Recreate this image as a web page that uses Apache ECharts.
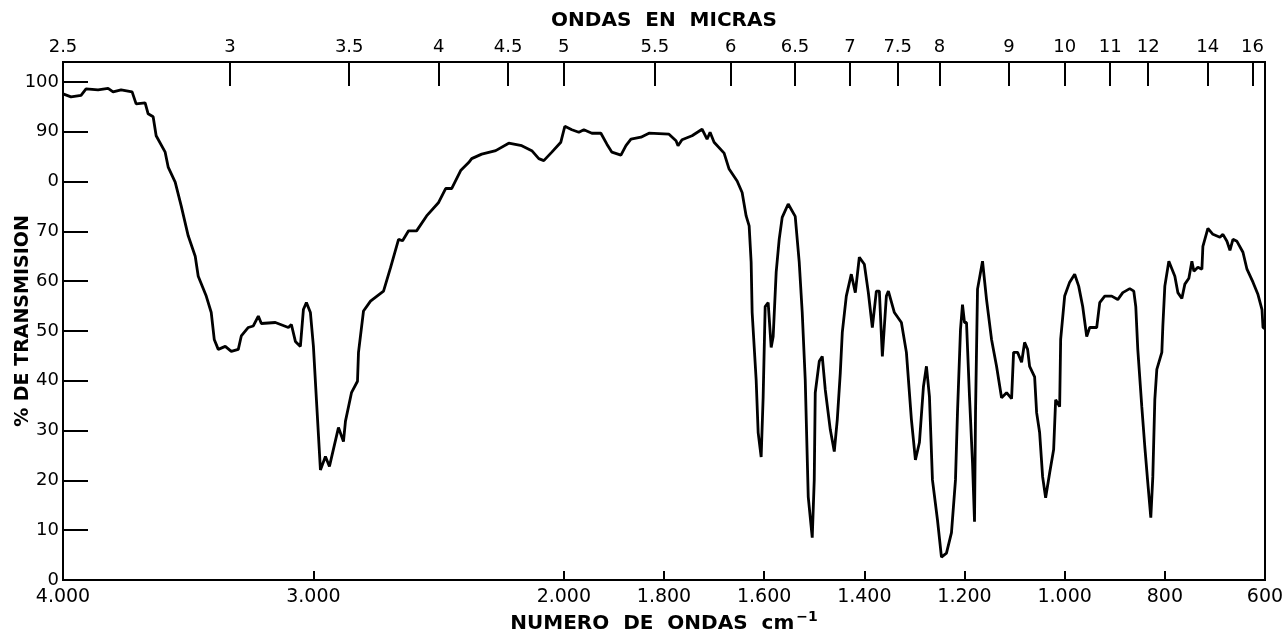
<!DOCTYPE html>
<html>
<head>
<meta charset="utf-8">
<title>Espectro IR</title>
<script src="https://cdn.jsdelivr.net/npm/echarts@6/dist/echarts.min.js"></script>
<style>
  html, body { margin: 0; padding: 0; background: #fff; }
  #chart { width: 1284px; height: 630px; }
</style>
</head>
<body>
<div id="chart"></div>
<script>
const waveNumbers = [
  4000, 3968, 3928, 3908, 3860, 3820, 3800, 3768, 3724, 3708, 3672, 3660, 3640, 3628,
  3592, 3580, 3552, 3528, 3500, 3472, 3460, 3428, 3408, 3396, 3380, 3352, 3328, 3300,
  3288, 3260, 3240, 3220, 3208, 3152, 3100, 3088, 3072, 3052, 3040, 3028, 3012, 3000,
  2988, 2972, 2952, 2936, 2900, 2880, 2872, 2848, 2824, 2820, 2800, 2772, 2720, 2692,
  2660, 2644, 2620, 2588, 2548, 2500, 2472, 2448, 2412, 2380, 2368, 2328, 2272, 2220,
  2168, 2128, 2100, 2080, 2048, 2012,
  1998, 1984, 1970, 1960, 1944, 1926, 1914, 1904, 1886, 1876, 1866, 1846, 1830, 1790,
  1776, 1772, 1764, 1744, 1724, 1714, 1708, 1700, 1680, 1670, 1654, 1644, 1636, 1630,
  1626, 1624, 1616, 1612, 1606, 1602, 1598, 1592, 1586, 1582, 1576, 1570, 1564, 1552,
  1538, 1530, 1524, 1518, 1512, 1504, 1500, 1498, 1490, 1484, 1478, 1468, 1460, 1454,
  1448, 1444, 1436, 1426, 1418, 1410, 1400, 1392, 1384, 1376, 1370, 1364, 1356, 1352,
  1340, 1326, 1316, 1306, 1298, 1290, 1282, 1276, 1270, 1264, 1254, 1246, 1236, 1226,
  1218, 1214, 1208, 1204, 1200, 1196, 1190, 1184, 1180, 1178, 1174, 1164, 1156, 1146,
  1136, 1126, 1116, 1106, 1102, 1094, 1086, 1080, 1074, 1070, 1060, 1056, 1050, 1044,
  1038, 1030, 1022, 1018, 1010, 1008, 1000, 990, 980, 972, 964, 956, 950, 936,
  930, 920, 906, 894, 884, 870, 862, 858, 854, 846, 840, 834, 828, 824,
  820, 816, 806, 804, 800, 792, 780, 774, 766, 760, 752, 746, 742, 734,
  726, 724, 714, 704, 690, 684, 676, 670, 664, 656, 644, 636, 624, 614,
  606, 604, 600
];

// % de transmision en cada punto
const transmission = [
  97.6, 97.0, 97.3, 98.6, 98.4, 98.7, 98.0, 98.4, 98.0, 95.6, 95.8, 93.6, 93.0, 89.2,
  85.9, 82.9, 79.9, 75.1, 69.1, 65.0, 61.0, 57.0, 53.7, 48.3, 46.3, 46.9, 45.9, 46.3,
  49.0, 50.7, 51.0, 53.0, 51.5, 51.7, 50.7, 51.3, 47.9, 46.9, 54.3, 55.7, 53.7, 46.9,
  36.2, 22.1, 24.8, 22.8, 30.6, 27.8, 31.9, 37.6, 39.9, 45.7, 54.0, 56.0, 58.0, 62.7,
  68.4, 68.1, 70.1, 70.1, 73.1, 75.8, 78.6, 78.6, 82.2, 83.8, 84.6, 85.5, 86.2, 87.7,
  87.2, 86.2, 84.6, 84.2, 85.9, 87.9,
  91.1, 90.4, 89.9, 90.4, 89.7, 89.7, 87.5, 85.9, 85.3, 87.2, 88.5, 88.9, 89.7, 89.5,
  88.2, 87.2, 88.4, 89.2, 90.5, 88.5, 89.9, 87.9, 85.7, 82.5, 80.1, 77.8, 73.1, 71.1,
  63.8, 53.7, 40.2, 29.6, 24.7, 36.8, 54.9, 55.7, 46.7, 48.9, 61.8, 68.4, 72.8, 75.5,
  73.0, 63.8, 53.7, 40.2, 16.7, 8.5, 20.1, 37.6, 43.9, 44.9, 38.2, 30.2, 25.8, 32.2,
  41.6, 49.7, 57.0, 61.4, 57.7, 64.8, 63.4, 57.7, 50.7, 58.0, 58.0, 44.9, 57.0, 58.0,
  53.7, 51.7, 45.7, 32.2, 24.1, 27.6, 38.8, 42.9, 36.8, 20.1, 12.1, 4.6, 5.4, 9.5,
  20.1, 33.6, 50.3, 55.3, 51.7, 51.7, 36.8, 23.5, 11.7, 33.6, 58.4, 64.0, 56.3, 48.3,
  42.9, 36.6, 37.6, 36.4, 45.7, 45.7, 43.7, 47.7, 46.3, 42.9, 40.8, 33.6, 29.6, 20.7,
  16.5, 21.5, 26.2, 36.2, 34.8, 48.3, 57.0, 59.8, 61.4, 59.0, 54.9, 48.9, 50.7, 50.7,
  55.7, 57.0, 57.0, 56.3, 57.7, 58.5, 58.0, 54.9, 46.3, 34.8, 26.8, 19.5, 12.5, 20.7,
  36.2, 42.3, 45.7, 50.9, 59.0, 64.0, 61.0, 57.7, 56.5, 59.4, 60.6, 64.0, 62.0, 62.8,
  62.4, 67.0, 70.6, 69.4, 68.8, 69.4, 68.0, 66.2, 68.4, 68.0, 65.8, 62.4, 59.8, 57.3,
  54.3, 50.7, 50.4
];

const micronTicks = [2.5, 3, 3.5, 4, 4.5, 5, 5.5, 6, 6.5, 7, 7.5, 8, 9, 10, 11, 12, 14, 16];
const waveTicks = [4000, 3000, 2000, 1800, 1600, 1400, 1200, 1000, 800, 600];

// la escala cambia en 2000 cm-1: la zona 4000-2000 va a la mitad
function chartX(wn) {
  return wn >= 2000 ? (4000 - wn) / 2 : 3000 - wn;
}
function waveFromX(x) {
  return x <= 1000 ? 4000 - 2 * x : 3000 - x;
}
function fmtWave(x) {
  const n = Math.round(waveFromX(x));
  if (n >= 1000) {
    return Math.floor(n / 1000) + '.' + String(n % 1000).padStart(3, '0');
  }
  return String(n);
}
function fmtMicron(x) {
  return String(Number((10000 / waveFromX(x)).toFixed(1)));
}

const micronPos = micronTicks.map(m => chartX(10000 / m));
const wavePos = waveTicks.map(w => chartX(w));
const seriesData = waveNumbers.map((w, i) => [chartX(w), transmission[i]]);

const FONT = 'DejaVu Sans';

const chart = echarts.init(document.getElementById('chart'));
chart.setOption({
  animation: false,
  backgroundColor: '#fff',
  grid: {
    left: 63,
    right: 19,
    top: 62,
    bottom: 50,
    containLabel: false,
    outerBoundsMode: 'none',
    show: true,
    borderColor: '#000',
    borderWidth: 2
  },
  xAxis: [
    {
      type: 'value',
      position: 'bottom',
      min: 0,
      max: 2400,
      name: 'NUMERO  DE  ONDAS  cm{sup|−1}',
      nameLocation: 'middle',
      nameGap: 30,
      nameMoveOverlap: false,
      nameTextStyle: {
        fontFamily: FONT,
        fontWeight: 'bold',
        fontSize: 20,
        color: '#000',
        rich: {
          sup: { fontFamily: FONT, fontWeight: 'bold', fontSize: 14, color: '#000', padding: [0, 0, 14, 2] }
        }
      },
      splitLine: { show: false },
      axisLine: { show: true, lineStyle: { color: '#000', width: 2 } },
      axisTick: {
        show: true,
        inside: true,
        length: 9,
        customValues: wavePos,
        lineStyle: { color: '#000', width: 2 }
      },
      axisLabel: {
        customValues: wavePos,
        formatter: fmtWave,
        fontFamily: FONT,
        fontSize: 19,
        color: '#000',
        margin: 8
      }
    },
    {
      type: 'value',
      position: 'top',
      min: 0,
      max: 2400,
      name: 'ONDAS  EN  MICRAS',
      nameLocation: 'middle',
      nameGap: 31,
      nameMoveOverlap: false,
      nameTextStyle: { fontFamily: FONT, fontWeight: 'bold', fontSize: 20, color: '#000' },
      splitLine: { show: false },
      axisLine: { show: true, lineStyle: { color: '#000', width: 2 } },
      axisTick: {
        show: true,
        inside: true,
        length: 24,
        customValues: micronPos,
        lineStyle: { color: '#000', width: 2 }
      },
      axisLabel: {
        customValues: micronPos,
        formatter: fmtMicron,
        fontFamily: FONT,
        fontSize: 18,
        color: '#000',
        margin: 6
      }
    }
  ],
  yAxis: {
    type: 'value',
    min: 0,
    max: 104,
    interval: 10,
    name: '% DE TRANSMISION',
    nameLocation: 'middle',
    nameGap: 30,
    nameMoveOverlap: false,
    nameTextStyle: { fontFamily: FONT, fontWeight: 'bold', fontSize: 19, color: '#000' },
    splitLine: { show: false },
    axisLine: { show: true, lineStyle: { color: '#000', width: 2 } },
    axisTick: { show: true, inside: true, length: 25, lineStyle: { color: '#000', width: 2 } },
    axisLabel: {
      fontFamily: FONT,
      fontSize: 18,
      color: '#000',
      margin: 4,
      formatter: v => (v % 10 !== 0 ? '' : v === 80 ? '0' : String(v))
    }
  },
  series: [
    {
      type: 'line',
      xAxisIndex: 0,
      data: seriesData,
      showSymbol: false,
      smooth: false,
      lineStyle: { color: '#000', width: 2.8 }
    }
  ]
});
</script>
</body>
</html>
